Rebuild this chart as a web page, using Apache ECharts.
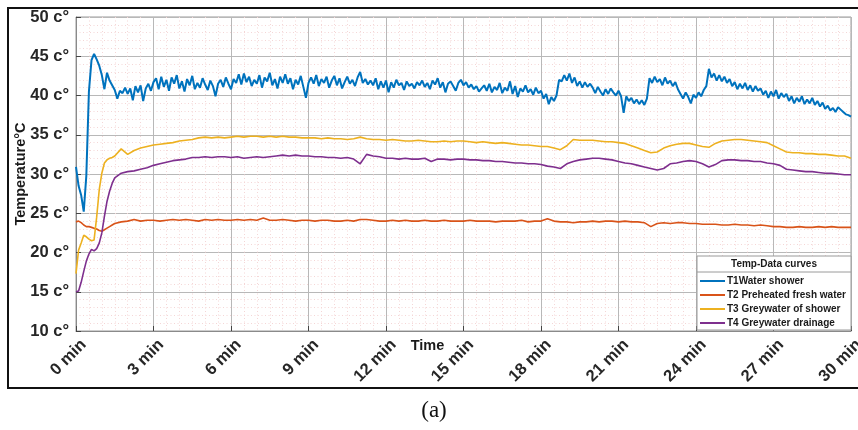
<!DOCTYPE html>
<html>
<head>
<meta charset="utf-8">
<script src="https://cdn.jsdelivr.net/npm/echarts@6/dist/echarts.min.js"></script>
<style>
html,body{margin:0;padding:0;background:#fff;}
#chart{width:858px;height:430px;}
</style>
</head>
<body>
<div id="chart"></div>
<script>
// ---- Data ----
const seriesNames = ['T1Water shower', 'T2 Preheated fresh water', 'T3 Greywater of shower', 'T4 Greywater drainage'];
const xTickLabelSuffix = ' min';
const yTickLabelSuffix = ' c°';

// T1 sampled every 0.1 min from 0 to 30 min
const t1Step = 0.1;
const t1Values = [
  30.9, 28.5, 27.3, 25.2, 29.8, 40.5, 44.5, 45.3, 44.6, 43.8,
  42.6, 40.8, 42.9, 41.9, 41.3, 40.7, 39.6, 40.6, 40.3, 41.0,
  40.2, 40.9, 39.4, 41.2, 40.4, 41.3, 39.3, 40.9, 41.5, 40.6,
  41.7, 42.2, 40.8, 42.4, 41.1, 42.0, 40.6, 42.3, 41.5, 42.6,
  40.9, 41.8, 40.5, 42.1, 41.3, 42.5, 40.8, 41.6, 41.0, 42.2,
  41.4, 40.7, 41.9, 41.2, 39.9, 41.5, 42.0, 41.1, 42.3, 41.5,
  40.8, 42.1, 41.6, 42.7, 41.4, 42.8, 41.7, 42.4, 41.2, 42.0,
  41.5, 42.6, 41.0, 42.3, 41.8, 42.9, 41.3, 42.1, 40.9, 42.4,
  41.6, 42.7, 41.5, 42.2, 40.8, 42.0, 41.4, 42.5, 41.1, 39.7,
  41.6, 42.3, 41.5, 42.6, 41.2, 42.1, 41.6, 42.4, 41.0, 41.9,
  42.5, 41.3, 42.2, 40.9, 41.7, 42.4, 41.5, 42.0, 41.2, 42.3,
  43.0, 41.6, 42.1, 41.4, 41.9, 41.3, 42.2, 40.8, 41.8, 41.0,
  41.9, 40.4, 41.7, 41.0, 42.0, 41.3, 41.6, 40.7, 41.8, 41.2,
  41.5, 40.9, 41.7, 41.3, 41.9, 41.1, 41.6, 40.8, 41.9, 41.4,
  42.2, 41.0, 41.7, 40.4, 41.5, 41.8, 41.2, 40.6, 41.6, 42.0,
  41.3, 41.7, 41.0, 41.4, 40.8, 41.2, 40.5, 40.9, 41.3, 40.6,
  41.5, 40.4, 41.1, 40.7, 41.6, 40.3, 41.0, 40.6, 41.8, 40.2,
  41.2, 39.8, 40.9, 40.5, 41.3, 40.4, 40.8, 40.1, 41.0, 40.3,
  40.6, 39.6, 40.2, 38.9, 39.8, 39.3, 40.0, 42.0, 41.8, 42.6,
  41.9, 42.8, 41.6, 42.3, 41.2, 41.8, 41.0, 41.7, 41.1, 41.5,
  41.0, 40.3, 41.1, 40.5, 40.0, 40.8, 40.2, 40.9, 40.4, 40.0,
  40.6, 39.9, 37.8, 39.9, 39.3, 39.7, 39.0, 39.5, 38.9, 39.4,
  38.8, 39.6, 42.2, 41.6, 42.4, 41.7, 42.1, 41.3, 42.3, 41.5,
  41.9, 41.2, 41.7, 40.8, 40.2, 39.6, 40.4, 39.8, 39.0, 40.1,
  39.7, 40.4, 39.9, 40.7, 41.2, 43.4, 42.3, 42.8, 41.9, 42.6,
  41.8, 42.4, 41.6, 42.1, 41.2, 41.7, 40.8, 41.5, 40.9, 41.6,
  40.7, 41.3, 40.5, 41.2, 40.6, 40.9, 40.1, 40.6, 39.7, 40.5,
  39.9, 40.7, 39.6, 40.3, 39.8, 40.2, 39.3, 39.9, 39.0, 39.7,
  39.2, 39.9, 38.9, 39.5, 39.0, 39.7, 38.8, 39.3, 38.6, 39.1,
  38.3, 38.7, 38.1, 38.4, 37.9, 38.5, 38.2, 37.9, 37.6, 37.5,
  37.3
];

// T2-T4 sample times (min): 0..1.5 every 0.1, then 1.75..30 every 0.25
const smoothTimes = [
  0, 0.1, 0.2, 0.3, 0.4, 0.5, 0.6, 0.7, 0.8, 0.9, 1.0, 1.1, 1.2, 1.3, 1.4, 1.5,
  1.75,
  2, 2.25, 2.5, 2.75, 3, 3.25, 3.5, 3.75, 4, 4.25, 4.5, 4.75, 5, 5.25, 5.5, 5.75,
  6, 6.25, 6.5, 6.75, 7, 7.25, 7.5, 7.75, 8, 8.25, 8.5, 8.75, 9, 9.25, 9.5, 9.75,
  10, 10.25, 10.5, 10.75, 11, 11.25, 11.5, 11.75, 12, 12.25, 12.5, 12.75, 13, 13.25, 13.5, 13.75,
  14, 14.25, 14.5, 14.75, 15, 15.25, 15.5, 15.75, 16, 16.25, 16.5, 16.75, 17, 17.25, 17.5, 17.75,
  18, 18.25, 18.5, 18.75, 19, 19.25, 19.5, 19.75, 20, 20.25, 20.5, 20.75, 21, 21.25, 21.5, 21.75,
  22, 22.25, 22.5, 22.75, 23, 23.25, 23.5, 23.75, 24, 24.25, 24.5, 24.75, 25, 25.25, 25.5, 25.75,
  26, 26.25, 26.5, 26.75, 27, 27.25, 27.5, 27.75, 28, 28.25, 28.5, 28.75, 29, 29.25, 29.5, 29.75,
  30
];

const t2Values = [
  23.9, 24.0, 23.8, 23.5, 23.3, 23.3, 23.2, 23.1, 23.0, 22.8, 22.7, 22.9, 23.1, 23.3, 23.5, 23.7,
  23.9,
  24.0, 24.2, 24.0, 24.1, 24.1, 24.0, 24.1, 24.2, 24.1, 24.2, 24.1, 24.0, 24.2, 24.1, 24.2, 24.1,
  24.1, 24.2, 24.1, 24.2, 24.1, 24.4, 24.1, 24.1, 24.2, 24.1, 24.0, 24.1, 24.1, 24.0, 24.1, 24.1,
  24.0, 24.0, 24.1, 24.0, 24.2, 24.2, 24.1, 24.0, 24.0, 24.1, 24.0, 24.1, 24.0, 24.0, 24.1, 24.0,
  24.0, 24.1, 24.0, 24.0, 24.0, 24.1, 24.0, 24.0, 24.0, 23.9, 24.0, 24.0, 24.0, 24.1, 23.9, 24.0,
  24.0, 24.3, 24.0, 23.9, 23.9, 23.8, 23.9, 23.9, 24.0, 23.9, 24.0, 24.0, 23.9, 24.0, 23.9, 23.9,
  23.8, 23.3, 23.7, 23.8, 23.7, 23.8, 23.8, 23.7, 23.7, 23.6, 23.6, 23.6, 23.5, 23.5, 23.6, 23.5,
  23.5, 23.4, 23.5, 23.4, 23.3, 23.3, 23.2, 23.2, 23.3, 23.2, 23.2, 23.3, 23.2, 23.3, 23.2, 23.2,
  23.2
];

const t3Values = [
  17.3, 20.3, 21.2, 22.2, 22.0, 21.7, 21.5, 21.6, 24.5, 28.0, 30.1, 31.4, 31.8, 32.0, 32.1, 32.3,
  33.2,
  32.5, 33.0, 33.3, 33.5, 33.7, 33.8, 33.9, 34.0, 34.2, 34.3, 34.4, 34.6, 34.7, 34.6, 34.7, 34.6,
  34.7, 34.8, 34.7, 34.8, 34.8, 34.7, 34.8, 34.7, 34.8, 34.7, 34.7, 34.6, 34.6, 34.6, 34.5, 34.6,
  34.5, 34.5, 34.4, 34.5, 34.7, 34.5, 34.4, 34.4, 34.3, 34.4, 34.3, 34.2, 34.2, 34.3, 34.2, 34.1,
  34.1, 34.2, 34.1, 34.2, 34.2, 34.1, 34.0, 34.1, 34.0, 33.9, 34.0, 33.9, 33.8, 33.7, 33.7, 33.6,
  33.5, 33.5, 33.3, 33.1, 33.6, 34.4, 34.3, 34.3, 34.3, 34.2, 34.1, 34.1, 34.0, 33.9, 33.6, 33.3,
  33.0, 32.7, 32.8, 33.3, 33.6, 33.8, 33.9, 33.9, 33.7, 33.5, 33.4, 33.9, 34.2, 34.3, 34.4, 34.4,
  34.3, 34.2, 34.1, 34.0, 33.6, 33.2, 32.8, 32.7, 32.7, 32.6, 32.6, 32.5, 32.5, 32.4, 32.3, 32.3,
  32.0
];

const t4Values = [
  15.0, 15.1, 16.2, 17.6, 18.9, 19.8, 20.4, 20.2, 20.5, 21.2, 22.5, 24.6, 26.5, 27.8, 28.8, 29.5,
  30.1,
  30.3, 30.4, 30.6, 30.8, 31.1, 31.3, 31.5, 31.7, 31.8, 31.9, 32.1, 32.1, 32.2, 32.1, 32.2, 32.2,
  32.1, 32.2, 32.0, 32.1, 32.2, 32.1, 32.2, 32.3, 32.4, 32.3, 32.4, 32.3, 32.3, 32.2, 32.2, 32.1,
  32.1, 32.0, 32.1, 31.9, 31.3, 32.5, 32.3, 32.2, 32.0, 32.0, 31.9, 32.0, 31.9, 31.9, 32.0, 31.6,
  31.9, 31.9, 31.8, 31.9, 31.9, 31.8, 31.8, 31.7, 31.7, 31.6, 31.6, 31.5, 31.4, 31.4, 31.3, 31.3,
  31.2, 31.0, 30.9, 30.7, 31.3, 31.6, 31.8, 31.9, 32.0, 32.0, 31.9, 31.8, 31.6, 31.4, 31.3, 31.1,
  30.9, 30.7, 30.5, 30.7, 31.3, 31.4, 31.6, 31.7, 31.6, 31.3, 30.9, 31.2, 31.7, 31.8, 31.8, 31.7,
  31.7, 31.6, 31.6, 31.4, 31.3, 31.1, 30.6, 30.5, 30.4, 30.3, 30.3, 30.2, 30.1, 30.1, 30.0, 29.9,
  29.9
];

const colors = ['#0072BD', '#D95319', '#EDB120', '#7E2F8E'];

// ---- Build ----
const t1Data = t1Values.map((v, i) => [+(i * t1Step).toFixed(2), v]);
const pair = vals => vals.map((v, i) => [smoothTimes[i], v]);

const sansFont = 'Arial, "Liberation Sans", Helvetica, sans-serif';
const chart = echarts.init(document.getElementById('chart'), null, {renderer: 'canvas'});

const lineSeries = (name, data, color, width) => ({
  name, type: 'line', data, showSymbol: false, symbol: 'none',
  lineStyle: {color, width}, itemStyle: {color}, z: 2, animation: false
});

const minorLine = {show: true, lineStyle: {color: '#f4d6d6', width: 1, type: [1, 2.5]}};

chart.setOption({
  animation: false,
  backgroundColor: '#fff',
  grid: {left: 76, right: 7, top: 17, bottom: 99, outerBoundsMode: 'none', containLabel: false,
         show: true, borderColor: '#9a9a9a', borderWidth: 1, backgroundColor: '#fff'},
  xAxis: {
    type: 'value', min: 0, max: 30, interval: 3,
    name: 'Time', nameLocation: 'middle', nameGap: 7, nameMoveOverlap: false,
    nameTextStyle: {fontFamily: sansFont, fontWeight: 'bold', fontSize: 14.5, color: '#1a1a1a', padding: [0, 72, 0, 0]},
    axisLine: {show: true, lineStyle: {color: '#8a8a8a', width: 1}},
    axisTick: {show: true, inside: true, length: 5, lineStyle: {color: '#444'}},
    axisLabel: {
      formatter: v => v + xTickLabelSuffix, rotate: 45, margin: 19, padding: [0, -11, 0, 0],
      fontFamily: sansFont, fontWeight: 'bold', fontSize: 16.5, color: '#262626'
    },
    splitLine: {show: true, lineStyle: {color: '#b8b8b8', width: 1}},
    minorTick: {show: false, splitNumber: 6},
    minorSplitLine: minorLine
  },
  yAxis: {
    type: 'value', min: 10, max: 50, interval: 5,
    name: 'Temperature°C', nameLocation: 'middle', nameGap: 48, nameRotate: 90, nameMoveOverlap: false,
    nameTextStyle: {fontFamily: sansFont, fontWeight: 'bold', fontSize: 14.5, color: '#1a1a1a'},
    axisLine: {show: true, lineStyle: {color: '#8a8a8a', width: 1}},
    axisTick: {show: true, inside: true, length: 5, lineStyle: {color: '#444'}},
    axisLabel: {
      formatter: v => v + yTickLabelSuffix, margin: 7,
      fontFamily: sansFont, fontWeight: 'bold', fontSize: 16.5, color: '#262626'
    },
    splitLine: {show: true, lineStyle: {color: '#b8b8b8', width: 1}},
    minorTick: {show: false, splitNumber: 5},
    minorSplitLine: minorLine
  },
  legend: {
    data: seriesNames,
    orient: 'vertical', left: 700, top: 274,
    itemWidth: 25, itemHeight: 2, itemGap: 0, icon: 'rect',
    textStyle: {fontFamily: sansFont, fontWeight: 'bold', fontSize: 10, color: '#1a1a1a', lineHeight: 14, padding: [0, 0, 0, -3]},
    padding: 0, z: 20
  },
  graphic: [
    {type: 'rect', z: 10, shape: {x: 697, y: 256, width: 154, height: 74},
     style: {fill: '#fff', stroke: '#9a9a9a', lineWidth: 1}},
    {type: 'line', z: 11, shape: {x1: 697, y1: 272, x2: 851, y2: 272},
     style: {stroke: '#9a9a9a', lineWidth: 1}},
    {type: 'text', z: 11, x: 774, y: 264,
     style: {text: 'Temp-Data curves', fontFamily: sansFont, fontWeight: 'bold', fontSize: 10,
             fill: '#1a1a1a', align: 'center', verticalAlign: 'middle'}},
    {type: 'rect', z: 30, silent: true, shape: {x: 8, y: 8, width: 870, height: 380},
     style: {fill: 'none', stroke: '#111', lineWidth: 2}},
    {type: 'text', z: 30, x: 434, y: 411,
     style: {text: '(a)', fontFamily: '"Liberation Serif", "DejaVu Serif", serif', fontSize: 23,
             fill: '#111', align: 'center', verticalAlign: 'middle'}}
  ],
  series: [
    lineSeries(seriesNames[0], t1Data, colors[0], 2),
    lineSeries(seriesNames[1], pair(t2Values), colors[1], 1.6),
    lineSeries(seriesNames[2], pair(t3Values), colors[2], 1.6),
    lineSeries(seriesNames[3], pair(t4Values), colors[3], 1.6)
  ]
});
</script>
</body>
</html>
